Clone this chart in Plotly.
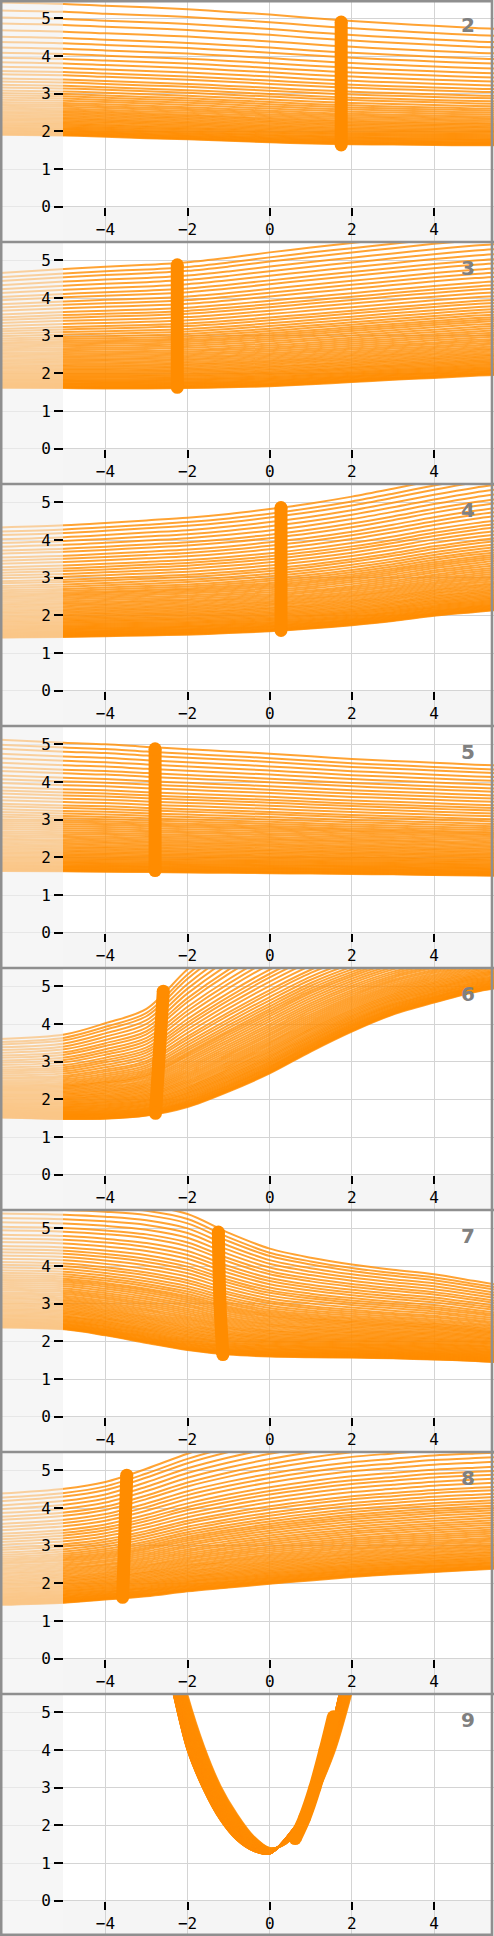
import plotly.graph_objects as go

# ---------------- geometry (pixels of the 494 x 1936 page) ----------------
FIG_W, FIG_H = 494, 1936
PANEL_PX = 242
X_ZERO_PX, PX_PER_X = 269.7, 41.08
Y_ZERO_PX, PX_PER_Y = 206.8, 37.7
STRIP_PX = 63

LINE_COLOR = "rgba(255,140,0,0.8)"
THICK_COLOR = "#ff8c00"
GRID_COLOR = "#d4d4d4"
STRIP_COLOR = "#f5f5f5"
FADE_COLOR = "rgba(245,245,245,0.55)"
BORDER_COLOR = "#8f8f8f"

# ---------------- data ----------------
panel_labels = ["2", "3", "4", "5", "6", "7", "8", "9"]
x_tickvals = [-4, -2, 0, 2, 4]
y_tickvals = [0, 1, 2, 3, 4, 5]

# levels of the curve family as read at the left edge (panel 2 and the others)
levels_panel2 = [1.89, 1.905, 1.92, 1.94, 1.96, 1.98, 2.00, 2.025, 2.05, 2.075, 2.10,
                 2.13, 2.16, 2.19, 2.22, 2.255, 2.29, 2.325, 2.36, 2.40, 2.44, 2.48,
                 2.52, 2.56, 2.61, 2.66, 2.71, 2.76, 2.82, 2.88, 2.94, 3.00, 3.07, 3.15,
                 3.22, 3.31, 3.39, 3.50, 3.59, 3.70, 3.82, 3.94, 4.07, 4.21, 4.36, 4.50,
                 4.67, 4.85, 5.01, 5.20, 5.41]
levels_common = [1.63, 1.645, 1.66, 1.675, 1.69, 1.71, 1.73, 1.75, 1.77, 1.79, 1.815,
                 1.84, 1.865, 1.89, 1.92, 1.95, 1.98, 2.01, 2.045, 2.08, 2.115, 2.15,
                 2.19, 2.23, 2.27, 2.31, 2.355, 2.40, 2.445, 2.49, 2.54, 2.59, 2.64,
                 2.69, 2.745, 2.80, 2.855, 2.91, 2.96, 3.01, 3.07, 3.13, 3.20, 3.27,
                 3.35, 3.42, 3.51, 3.60, 3.69, 3.77, 3.86, 3.97, 4.07, 4.17, 4.29, 4.39,
                 4.51, 4.63, 4.75, 4.88, 4.99, 5.12]

knots = [-6.6, -5, -4, -3, -2, -1, 0, 1, 2, 3, 4, 5, 5.5]

lower_2 = [1.91, 1.89, 1.86, 1.82, 1.79, 1.75, 1.71, 1.68, 1.66, 1.65, 1.64, 1.63, 1.63]
upper_2 = [5.42, 5.38, 5.33, 5.29, 5.24, 5.17, 5.10, 5.01, 4.93, 4.86, 4.80, 4.74, 4.72]
lower_3 = [1.62, 1.61, 1.60, 1.60, 1.61, 1.63, 1.66, 1.71, 1.77, 1.83, 1.88, 1.94, 1.96]
upper_3 = [4.66, 4.77, 4.83, 4.88, 4.95, 5.07, 5.21, 5.34, 5.46, 5.58, 5.70, 5.80, 5.84]
lower_4 = [1.41, 1.43, 1.45, 1.47, 1.49, 1.53, 1.58, 1.65, 1.74, 1.85, 1.99, 2.09, 2.14]
upper_4 = [4.33, 4.39, 4.45, 4.52, 4.59, 4.69, 4.82, 4.97, 5.15, 5.36, 5.58, 5.78, 5.86]
lower_5 = [1.64, 1.63, 1.62, 1.61, 1.60, 1.59, 1.58, 1.57, 1.56, 1.55, 1.53, 1.52, 1.51]
upper_5 = [5.12, 5.04, 5.00, 4.93, 4.87, 4.81, 4.75, 4.68, 4.61, 4.56, 4.51, 4.46, 4.44]
lower_6 = [1.52, 1.48, 1.49, 1.57, 1.80, 2.21, 2.69, 3.27, 3.80, 4.25, 4.57, 4.85, 4.95]
upper_6 = [3.60, 3.72, 4.02, 4.40, 5.45, 6.30, 7.00, 7.50, 7.80, 8.00, 8.10, 8.20, 8.20]
lower_7 = [2.37, 2.32, 2.16, 1.96, 1.77, 1.65, 1.60, 1.58, 1.57, 1.55, 1.52, 1.48, 1.45]
upper_7 = [5.75, 5.72, 5.68, 5.60, 5.38, 4.88, 4.46, 4.22, 4.04, 3.90, 3.78, 3.60, 3.51]
lower_8 = [1.43, 1.49, 1.57, 1.66, 1.79, 1.89, 1.99, 2.08, 2.17, 2.24, 2.30, 2.36, 2.39]
upper_8 = [4.38, 4.51, 4.69, 5.04, 5.44, 5.75, 6.00, 6.20, 6.35, 6.45, 6.55, 6.60, 6.62]

knots_9 = [-2.8, -2.4, -2.0, -1.6, -1.2, -0.8, -0.4, 0.0, 0.4, 0.8, 1.2, 1.6, 2.0, 2.4]
lower_9 = [7.5, 5.76, 4.00, 2.94, 2.15, 1.62, 1.33, 1.25, 1.66, 2.28, 3.30, 5.00, 7.00, 9.0]
upper_9 = [8.9, 7.20, 5.45, 4.10, 3.05, 2.30, 1.72, 1.40, 1.52, 2.03, 2.95, 4.03, 5.54, 7.3]

thick_x_2, thick_y_2 = [1.74, 1.74], [1.64, 4.90]
thick_x_3, thick_y_3 = [-2.25, -2.25], [1.63, 4.88]
thick_x_4, thick_y_4 = [0.275, 0.275], [1.60, 4.86]
thick_x_5, thick_y_5 = [-2.79, -2.79], [1.65, 4.88]
thick_x_6, thick_y_6 = [-2.78, -2.70, -2.59], [1.63, 3.0, 4.87]
thick_x_7, thick_y_7 = [-1.14, -1.21, -1.25], [1.65, 3.0, 4.90]
thick_x_8, thick_y_8 = [-3.58, -3.53, -3.48], [1.63, 3.2, 4.87]
thick_x_9, thick_y_9 = [0.62, 0.85, 1.10, 1.35, 1.55], [1.65, 2.2, 3.0, 4.0, 4.88]

panels = [
    (knots, lower_2, upper_2, levels_panel2, thick_x_2, thick_y_2),
    (knots, lower_3, upper_3, levels_common, thick_x_3, thick_y_3),
    (knots, lower_4, upper_4, levels_common, thick_x_4, thick_y_4),
    (knots, lower_5, upper_5, levels_common, thick_x_5, thick_y_5),
    (knots, lower_6, upper_6, levels_common, thick_x_6, thick_y_6),
    (knots, lower_7, upper_7, levels_common, thick_x_7, thick_y_7),
    (knots, lower_8, upper_8, levels_common, thick_x_8, thick_y_8),
    (knots_9, lower_9, upper_9, levels_common, thick_x_9, thick_y_9),
]

# ---------------- figure ----------------
x_min = -X_ZERO_PX / PX_PER_X
x_max = (FIG_W - X_ZERO_PX) / PX_PER_X
x_strip = (STRIP_PX - X_ZERO_PX) / PX_PER_X
y_top = Y_ZERO_PX / PX_PER_Y
y_bot = (Y_ZERO_PX - PANEL_PX) / PX_PER_Y

tick_font = dict(family="DejaVu Sans Mono", size=16, color="#000000")

fig = go.Figure()
layout_axes = {}
shapes = []
annotations = []

for i, (kx, lower, upper, levels, tx, ty) in enumerate(panels):
    n = i + 1
    xa = "x" if n == 1 else f"x{n}"
    ya = "y" if n == 1 else f"y{n}"
    lo, hi = min(levels), max(levels)
    for lev in levels:
        f = (lev - lo) / (hi - lo)
        ys = [a + (b - a) * f for a, b in zip(lower, upper)]
        fig.add_trace(go.Scatter(
            x=kx, y=ys, mode="lines",
            line=dict(color=LINE_COLOR, width=2.0, shape="spline", smoothing=0.9),
            xaxis=xa, yaxis=ya, hoverinfo="skip", showlegend=False))
    fig.add_trace(go.Scatter(
        x=tx, y=ty, mode="lines+markers",
        line=dict(color=THICK_COLOR, width=13, shape="spline"),
        marker=dict(size=13, color=THICK_COLOR),
        xaxis=xa, yaxis=ya, hoverinfo="skip", showlegend=False))
    # faded left strip over the curves
    fig.add_trace(go.Scatter(
        x=[x_min, x_strip, x_strip, x_min, x_min],
        y=[y_bot, y_bot, y_top, y_top, y_bot],
        mode="none", fill="toself", fillcolor=FADE_COLOR,
        xaxis=xa, yaxis=ya, hoverinfo="skip", showlegend=False))

    T = i * PANEL_PX
    dom = [1 - (T + PANEL_PX) / FIG_H, 1 - T / FIG_H]
    zero_pos = 1 - (T + Y_ZERO_PX) / FIG_H
    layout_axes["xaxis" + ("" if n == 1 else str(n))] = dict(
        domain=[0, 1], range=[x_min, x_max], anchor="free", position=zero_pos,
        tickvals=x_tickvals, ticks="outside", ticklen=8, tickwidth=1.6,
        tickcolor="#000000", tickfont=tick_font, showgrid=True,
        gridcolor=GRID_COLOR, gridwidth=1.4, zeroline=False, showline=False,
        fixedrange=True)
    layout_axes["yaxis" + ("" if n == 1 else str(n))] = dict(
        domain=dom, range=[y_bot, y_top], anchor="free", position=STRIP_PX / FIG_W,
        tickvals=y_tickvals, ticks="outside", ticklen=9, tickwidth=1.6,
        tickcolor="#000000", tickfont=tick_font, showgrid=True,
        gridcolor=GRID_COLOR, gridwidth=1.4, zeroline=False, showline=False,
        fixedrange=True)

    # gray strips (below grid)
    shapes.append(dict(type="rect", xref="paper", yref="paper", layer="below",
                       x0=0, x1=1, y0=dom[0], y1=zero_pos,
                       fillcolor=STRIP_COLOR, line=dict(width=0)))
    shapes.append(dict(type="rect", xref="paper", yref="paper", layer="below",
                       x0=0, x1=STRIP_PX / FIG_W, y0=dom[0], y1=dom[1],
                       fillcolor=STRIP_COLOR, line=dict(width=0)))
    if i > 0:
        shapes.append(dict(type="line", xref="paper", yref="paper", layer="above",
                           x0=0, x1=1, y0=dom[1], y1=dom[1],
                           line=dict(color=BORDER_COLOR, width=2.6)))
    annotations.append(dict(
        text=panel_labels[i], xref="paper", yref="paper",
        x=467.5 / FIG_W, y=1 - (T + 25.5) / FIG_H, xanchor="center", yanchor="middle",
        showarrow=False,
        font=dict(family="DejaVu Sans", size=20, color="#808080", weight="bold")))

shapes.append(dict(type="rect", xref="paper", yref="paper", layer="above",
                   x0=1.2 / FIG_W, x1=1 - 2.0 / FIG_W, y0=1.2 / FIG_H, y1=1 - 1.2 / FIG_H,
                   line=dict(color=BORDER_COLOR, width=2.6)))

fig.update_layout(
    width=FIG_W, height=FIG_H, autosize=False,
    margin=dict(l=0, r=0, t=0, b=0, pad=0),
    paper_bgcolor="#ffffff", plot_bgcolor="#ffffff",
    showlegend=False, hovermode=False,
    shapes=shapes, annotations=annotations,
    **layout_axes)

fig.write_html("out.html", config={"displayModeBar": False},
               post_script="document.body.style.margin='0';document.body.style.overflow='hidden';")
